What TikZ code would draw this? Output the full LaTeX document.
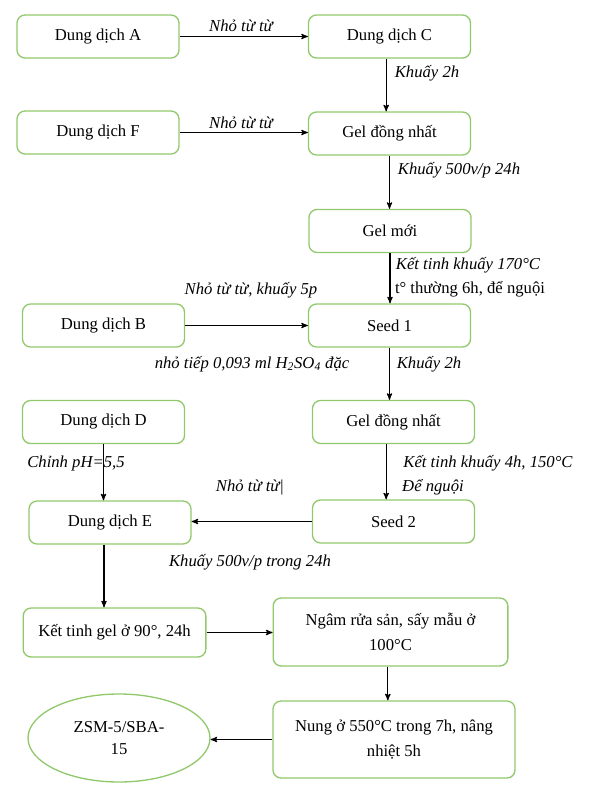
\documentclass[tikz,border=0pt]{standalone}
\usepackage{fontspec}
\setmainfont{Liberation Serif}
\usetikzlibrary{arrows}
\usetikzlibrary{shapes.geometric}
\definecolor{boxgreen}{RGB}{146,200,108}

\begin{document}
\begin{tikzpicture}[x=.75pt, y=-.75pt,
  box/.style={draw=boxgreen, line width=1pt, rounded corners=6pt, minimum width=121.5pt, minimum height=32.25pt, align=center, inner sep=2pt, font=\fontsize{12.5}{15}\selectfont},
  lbl/.style={inner sep=0pt, font=\fontsize{12.5}{15}\selectfont\itshape},
  flow/.style={black, line width=.8pt, ->, >=stealth'}]
\useasboundingbox (0,0) rectangle (589,795);

\node[box] (A)  at (98,36.5)    {Dung dịch A};
\node[box] (C)  at (389.5,36.5) {Dung dịch C};
\node[box] (F)  at (98,132.5)   {Dung dịch F};
\node[box] (G1) at (389.5,133.5) {Gel đồng nhất};
\node[box] (M)  at (390,231)    {Gel mới};
\node[box] (B)  at (103.5,325.5) {Dung dịch B};
\node[box] (S1) at (389.5,325.5) {Seed 1};
\node[box] (D)  at (103.5,422)  {Dung dịch D};
\node[box] (G2) at (393.5,422)  {Gel đồng nhất};
\node[box] (E)  at (110,522.5)  {Dung dịch E};
\node[box] (S2) at (393.5,521.5) {Seed 2};
\node[box, minimum width=137pt, minimum height=36.75pt] (K) at (114.5,632.5) {Kết tinh gel ở 90°, 24h};
\node[box, minimum width=176pt, minimum height=51pt, font=\fontsize{12.5}{18.75}\selectfont] (N) at (390.5,632) {Ngâm rửa sản, sấy mẫu ở\\100°C};
\node[box, minimum width=181.5pt, minimum height=57.75pt, font=\fontsize{12.5}{18.75}\selectfont] (U) at (394,739.5) {Nung ở 550°C trong 7h, nâng\\nhiệt 5h};
\node[box, ellipse, sharp corners, minimum width=136.5pt, minimum height=66pt, font=\fontsize{12.5}{16}\selectfont] (Z) at (119,738) {ZSM-5/SBA-\\15};

\node[lbl] (tA)  at (241,26)  {Nhỏ từ từ};
\node[lbl] (tC)  at (427,73)  {Khuấy 2h};
\node[lbl] (tF)  at (241,123) {Nhỏ từ từ};
\node[lbl] (tG1) at (459,170) {Khuấy 500v/p 24h};
\node[lbl] (tM1) at (468,265) {Kết tinh khuấy 170°C};
\node[lbl, font=\fontsize{12.5}{15}\selectfont] (tM2) at (470,289) {t° thường 6h, để nguội};
\node[lbl] (tB1) at (251,290) {Nhỏ từ từ, khuấy 5p};
\node[lbl] (tB2) at (252,364) {nhỏ tiếp 0,093 ml H\textsubscript{2}SO\textsubscript{4} đặc};
\node[lbl] (tS1) at (429,364) {Khuấy 2h};
\node[lbl] (tD)  at (76,463)  {Chỉnh pH=5,5};
\node[lbl] (tG2) at (488,463) {Kết tinh khuấy 4h, 150°C};
\node[lbl] (tG3) at (433,487) {Để nguội};
\node[lbl] (tS2) at (250,488) {Nhỏ từ từ|};
\node[lbl] (tE)  at (250,562) {Khuấy 500v/p trong 24h};

\draw[flow] (A.east) -- (C.west);
\draw[flow] ([xshift=-2.5pt]C.south) -- ([xshift=-2.5pt]C.south |- G1.north);
\draw[flow] (F.east) -- (F.east -| G1.west);
\draw[flow] (G1.south) -- (G1.south |- M.north);
\draw[flow] (M.south) -- (M.south |- S1.north);
\draw[flow] (B.east) -- (S1.west);
\draw[flow] (S1.south) -- (S1.south |- G2.north);
\draw[flow] (D.south) -- (D.south |- E.north);
\draw[flow] ([xshift=-5.5pt]G2.south) -- ([xshift=-5.5pt]G2.south |- S2.north);
\draw[flow] (S2.west) -- (S2.west -| E.east);
\draw[flow] ([xshift=-4.5pt]E.south) -- ([xshift=-4.5pt]E.south |- K.north);
\draw[flow] (K.east) -- (K.east -| N.west);
\draw[flow] ([xshift=-2pt]N.south) -- ([xshift=-2pt]N.south |- U.north);
\draw[flow] (U.west) -- (U.west -| Z.east);
\end{tikzpicture}
\end{document}
